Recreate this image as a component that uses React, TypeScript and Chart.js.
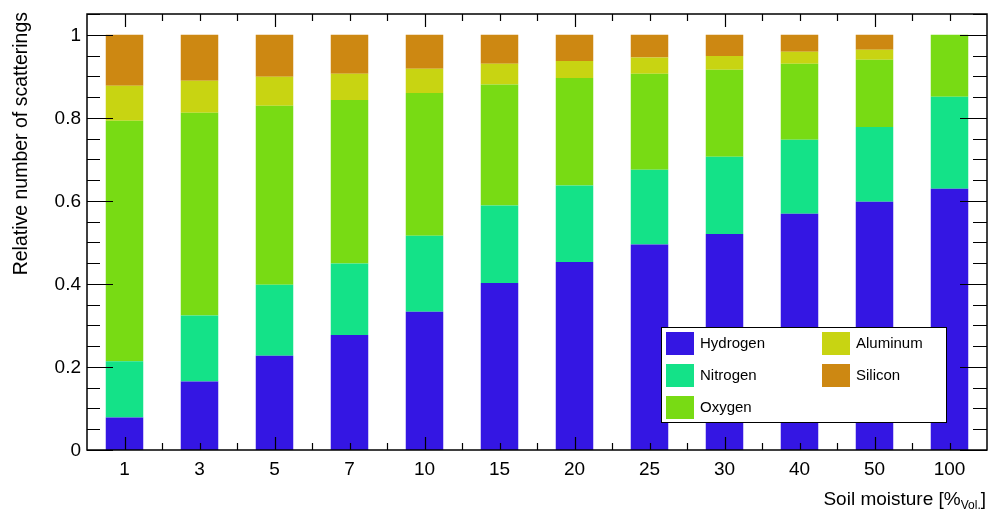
import React, { useEffect, useRef } from 'react';
import { Chart, registerables } from 'chart.js';

Chart.register(...registerables);

const categories = ['1', '3', '5', '7', '10', '15', '20', '25', '30', '40', '50', '100'];
const hydrogen = [0.078, 0.165, 0.227, 0.277, 0.333, 0.402, 0.453, 0.495, 0.520, 0.569, 0.598, 0.629];
const nitrogen = [0.136, 0.159, 0.171, 0.172, 0.183, 0.187, 0.184, 0.180, 0.186, 0.178, 0.180, 0.222];
const oxygen = [0.579, 0.488, 0.431, 0.394, 0.344, 0.291, 0.259, 0.231, 0.210, 0.183, 0.162, 0.149];
const aluminum = [0.084, 0.077, 0.070, 0.063, 0.058, 0.050, 0.041, 0.039, 0.033, 0.029, 0.024, 0];
const silicon = [0.123, 0.111, 0.101, 0.094, 0.082, 0.070, 0.063, 0.055, 0.051, 0.041, 0.036, 0];

const seriesNames = ['Hydrogen', 'Nitrogen', 'Oxygen', 'Aluminum', 'Silicon'];
const seriesColors = ['#3416E3', '#14E288', '#78DB14', '#C8D412', '#CD8812'];

const yTickValues = [0, 0.2, 0.4, 0.6, 0.8, 1];
const yTickLabels = ['0', '0.2', '0.4', '0.6', '0.8', '1'];
const yMinorStep = 0.05;
const yMax = 1.05;

const xTitle = 'Soil moisture [%';
const xTitleSub = 'Vol.';
const xTitleEnd = ']';
const yTitle = 'Relative number of scatterings';

const FONT = '"Liberation Sans", Arial, Helvetica, sans-serif';

const rootPlugin = {
  id: 'rootStyle',
  afterDatasetsDraw(chart: any) {
    const ctx = chart.ctx as CanvasRenderingContext2D;
    const area = chart.chartArea;
    const xs = chart.scales.x;
    const ys = chart.scales.y;
    ctx.save();

    // ticks
    ctx.strokeStyle = '#000';
    ctx.lineWidth = 1.2;
    ctx.beginPath();
    const nMinor = Math.round(yMax / yMinorStep);
    for (let k = 0; k <= nMinor; k++) {
      const v = k * yMinorStep;
      const py = Math.round(ys.getPixelForValue(v)) + 0.5;
      const major = Math.abs(v / 0.2 - Math.round(v / 0.2)) < 1e-6;
      const lenL = major ? 26 : 13;
      const lenR = major ? 27 : 14;
      ctx.moveTo(area.left, py);
      ctx.lineTo(area.left + lenL, py);
      ctx.moveTo(area.right, py);
      ctx.lineTo(area.right - lenR, py);
    }
    for (let i = 0; i <= 22; i++) {
      const v = i * 0.5;
      const px = Math.round(xs.getPixelForValue(v)) + 0.5;
      const major = i % 4 === 0;
      const len = major ? 13 : 7;
      ctx.moveTo(px, area.bottom);
      ctx.lineTo(px, area.bottom - len);
      ctx.moveTo(px, area.top);
      ctx.lineTo(px, area.top + len);
    }
    ctx.stroke();

    // frame
    ctx.lineWidth = 1.5;
    ctx.strokeRect(area.left, area.top, area.right - area.left, area.bottom - area.top);

    // y tick labels
    ctx.fillStyle = '#000';
    ctx.font = `19px ${FONT}`;
    ctx.textAlign = 'right';
    ctx.textBaseline = 'middle';
    yTickValues.forEach((v, i) => {
      ctx.fillText(yTickLabels[i], 81, ys.getPixelForValue(v) + 1);
    });

    // x tick labels
    ctx.textAlign = 'center';
    ctx.textBaseline = 'alphabetic';
    categories.forEach((c, i) => {
      ctx.fillText(c, xs.getPixelForValue(i), 475);
    });

    // x title with subscript
    const mainFont = `19px ${FONT}`;
    const subFont = `12px ${FONT}`;
    ctx.font = mainFont;
    const w1 = ctx.measureText(xTitle).width;
    const w3 = ctx.measureText(xTitleEnd).width;
    ctx.font = subFont;
    const w2 = ctx.measureText(xTitleSub).width;
    const right = 986;
    const x0 = right - w1 - w2 - w3;
    ctx.textAlign = 'left';
    ctx.font = mainFont;
    ctx.fillText(xTitle, x0, 505);
    ctx.font = subFont;
    ctx.fillText(xTitleSub, x0 + w1, 509);
    ctx.font = mainFont;
    ctx.fillText(xTitleEnd, x0 + w1 + w2, 505);

    // y title
    ctx.save();
    ctx.translate(27, 12);
    ctx.rotate(-Math.PI / 2);
    ctx.font = `19.5px ${FONT}`;
    ctx.textAlign = 'right';
    ctx.textBaseline = 'alphabetic';
    ctx.fillText(yTitle, 0, 0);
    ctx.restore();

    // legend
    const lx = 661, ly = 327, lw = 285, lh = 95;
    ctx.fillStyle = '#fff';
    ctx.fillRect(lx, ly, lw, lh);
    ctx.strokeStyle = '#000';
    ctx.lineWidth = 1;
    ctx.strokeRect(lx + 0.5, ly + 0.5, lw, lh);
    const colX = [666, 822];
    const textX = [700, 856];
    const rowY = [332, 364, 396];
    const baseY = [348, 380, 412];
    ctx.font = `15px ${FONT}`;
    ctx.textAlign = 'left';
    ctx.textBaseline = 'alphabetic';
    seriesNames.forEach((name, i) => {
      const col = i < 3 ? 0 : 1;
      const row = i < 3 ? i : i - 3;
      ctx.fillStyle = seriesColors[i];
      ctx.fillRect(colX[col], rowY[row], 28, 23);
      ctx.fillStyle = '#000';
      ctx.fillText(name, textX[col], baseY[row]);
    });

    ctx.restore();
  },
};

export default function App() {
  const ref = useRef<HTMLCanvasElement | null>(null);
  useEffect(() => {
    document.body.style.margin = '0';
    const canvas = ref.current;
    if (!canvas) return;
    const series = [hydrogen, nitrogen, oxygen, aluminum, silicon];
    const chart = new Chart(canvas, {
      type: 'bar',
      data: {
        labels: categories,
        datasets: series.map((d, i) => ({
          label: seriesNames[i],
          data: d,
          backgroundColor: seriesColors[i],
          borderWidth: 0,
          barPercentage: 0.5,
          categoryPercentage: 1.0,
        })),
      },
      options: {
        responsive: false,
        animation: false,
        devicePixelRatio: 1,
        layout: { padding: { left: 87, right: 1, top: 14, bottom: 62 } },
        plugins: {
          legend: { display: false },
          tooltip: { enabled: false },
        },
        scales: {
          x: { stacked: true, display: false, offset: true },
          y: { stacked: true, display: false, min: 0, max: yMax },
        },
      },
      plugins: [rootPlugin],
    });
    return () => chart.destroy();
  }, []);
  return (
    <div style={{ width: 988, height: 512, background: '#fff' }}>
      <canvas ref={ref} width={988} height={512} style={{ display: 'block' }} />
    </div>
  );
}
